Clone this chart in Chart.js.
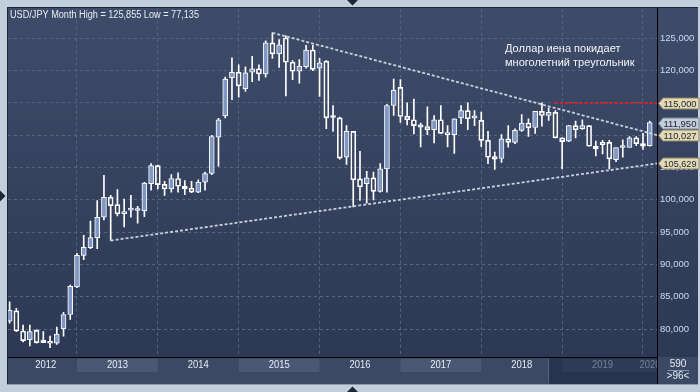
<!DOCTYPE html>
<html><head><meta charset="utf-8">
<script src="https://cdn.jsdelivr.net/npm/chart.js@4.4.0/dist/chart.umd.min.js"></script>
<style>html,body{margin:0;padding:0;background:#c3cedb;overflow:hidden}canvas{display:block}</style>
</head><body><canvas id="c" width="700" height="392"></canvas>
<script>
// ---- data (USD/JPY monthly candles) ----
const months = ['2012-03','2012-04','2012-05','2012-06','2012-07','2012-08','2012-09','2012-10','2012-11','2012-12',
'2013-01','2013-02','2013-03','2013-04','2013-05','2013-06','2013-07','2013-08','2013-09','2013-10','2013-11','2013-12',
'2014-01','2014-02','2014-03','2014-04','2014-05','2014-06','2014-07','2014-08','2014-09','2014-10','2014-11','2014-12',
'2015-01','2015-02','2015-03','2015-04','2015-05','2015-06','2015-07','2015-08','2015-09','2015-10','2015-11','2015-12',
'2016-01','2016-02','2016-03','2016-04','2016-05','2016-06','2016-07','2016-08','2016-09','2016-10','2016-11','2016-12',
'2017-01','2017-02','2017-03','2017-04','2017-05','2017-06','2017-07','2017-08','2017-09','2017-10','2017-11','2017-12',
'2018-01','2018-02','2018-03','2018-04','2018-05','2018-06','2018-07','2018-08','2018-09','2018-10','2018-11','2018-12',
'2019-01','2019-02','2019-03','2019-04','2019-05','2019-06','2019-07','2019-08','2019-09','2019-10','2019-11','2019-12',
'2020-01','2020-02'];
const opens = [81.2,82.8,79.7,78.3,79.8,78.3,78.1,77.8,80.0,82.25,
86.5,91.4,92.6,94.15,97.3,100.4,99.25,97.85,98.4,98.35,98.3,102.5,
105.3,102.4,101.7,103.3,102.1,101.8,101.2,102.75,104.1,109.7,113.0,118.9,
119.75,117.2,119.75,120.3,119.5,124.3,122.6,125.05,121.3,119.9,120.6,123.2,
120.4,121.45,112.8,112.7,106.6,110.6,103.25,102.5,103.4,101.3,104.8,114.6,
117.4,112.95,112.4,111.6,111.35,110.85,112.4,110.4,110.1,112.7,113.8,112.7,
112.3,109.2,106.7,106.4,109.45,108.9,110.75,111.9,111.2,113.7,113.05,113.55,
109.6,109.1,111.5,111.0,111.5,108.3,108.9,108.9,106.2,108.1,108.1,109.6,
108.7,108.4];
const highs = [84.2,83.2,80.6,80.6,79.9,79.6,78.9,80.3,82.6,86.8,
91.7,94.5,96.7,99.9,103.8,100.7,101.6,100.1,100.7,99.0,102.7,105.6,
105.4,102.85,103.9,104.2,103.0,102.85,103.1,104.3,110.0,112.6,119.0,122.0,
120.9,120.6,122.2,120.9,124.6,125.86,124.8,125.4,121.55,121.7,123.9,123.9,
121.9,121.55,114.6,112.8,111.5,110.6,107.5,104.4,104.3,105.6,114.8,118.7,
118.6,115.0,115.6,111.9,114.4,113.05,114.6,111.5,112.55,114.6,115.0,113.8,
113.6,110.6,107.4,110.1,111.5,111.0,113.2,112.55,113.7,115.0,114.25,113.8,
109.6,111.5,112.2,112.4,111.5,109.1,109.2,109.2,108.1,109.3,109.8,109.8,
110.3,112.2];
const lows = [80.9,79.6,78.0,77.4,77.8,77.9,77.1,77.6,78.9,81.5,
86.4,90.75,92.45,92.45,96.9,93.7,97.5,95.8,97.3,96.4,97.4,101.5,
101.7,100.7,101.2,101.2,100.8,101.1,101.1,101.5,103.9,105.2,112.7,115.5,
115.9,116.8,118.3,118.5,119.0,121.9,120.5,116.1,118.6,118.05,120.4,120.0,
116.0,111.0,110.6,106.3,105.5,98.9,99.9,99.5,100.0,101.2,101.2,113.05,
112.0,111.6,110.2,108.2,110.1,108.8,110.3,108.2,107.2,111.8,110.85,111.5,
108.25,105.6,104.7,105.8,108.15,108.7,110.6,109.8,110.3,111.4,112.3,109.6,
104.8,109.0,109.6,110.9,108.3,106.8,107.1,104.8,105.9,106.6,108.1,108.4,
107.8,108.3];
const closes = [82.9,79.7,78.2,79.6,77.9,77.9,77.8,79.2,82.25,86.6,
91.4,92.65,94.15,97.3,100.4,99.1,97.85,98.2,98.4,98.4,102.6,105.3,
102.35,101.7,103.3,102.1,101.7,101.2,102.7,104.05,109.8,112.4,118.7,119.75,
117.65,119.65,120.3,119.5,124.3,122.6,124.0,121.3,119.9,120.7,123.2,120.2,
121.2,112.7,112.75,106.45,110.6,103.1,102.0,103.4,101.3,104.8,114.6,117.0,
112.9,112.4,111.5,111.25,110.85,112.4,110.3,110.1,112.55,113.8,112.55,112.7,
109.2,106.6,106.3,109.45,108.9,110.75,111.9,111.15,113.7,113.05,113.55,109.6,
109.0,111.5,110.85,111.5,108.3,107.9,108.55,106.35,108.1,108.1,109.6,108.7,
108.3,111.95];
const years = ['2012','2013','2014','2015','2016','2017','2018','2019','2020'];
const priceTicks = [80,85,90,95,100,105,110,115,120,125];
// trend lines in (month index since Jan 2012, price)
const upperTrend = [{x:41, y:125.86}, {x:98.08, y:110.027}];
const lowerTrend = [{x:17, y:93.7}, {x:98.08, y:105.629}];
const resistance = [{x:82.9, y:115.0}, {x:98.08, y:115.0}];
const tagValues = [115.000, 111.950, 110.027, 105.629];
const tagKinds  = ['level','last','level','level'];
const titleText = 'USD/JPY Month High = 125,855 Low = 77,135';
const noteLines = ['Доллар иена покидает','многолетний треугольник'];
const xMin = 1.76, xMax = 98.08, yMin = 75.67, yMax = 129.59;
const shadeFrom = '2018-11';

// ---- helpers ----
function mIdx(s){ const p = s.split('-').map(Number); return (p[0]-2012)*12 + (p[1]-1); }
const xs = months.map(mIdx);
const bodyData = xs.map((x,i)=>({x, y:[opens[i], closes[i]]}));
const upWick = xs.map((x,i)=>({x, y:[Math.max(opens[i],closes[i]), highs[i]]}));
const loWick = xs.map((x,i)=>({x, y:[lows[i], Math.min(opens[i],closes[i])]}));
const bodyFill = xs.map((x,i)=> closes[i] >= opens[i] ? '#7f97c5' : 'rgba(0,0,0,0)');
const fmt = v => v.toFixed(3).replace('.', ',');
const FONT = '"Liberation Sans", Arial, sans-serif';

const framePlugin = {
  id: 'frame',
  beforeDraw(chart){
    const ctx = chart.ctx, xs_ = chart.scales.x;
    const px = v => Math.max(8, Math.min(657, xs_.getPixelForValue(v)));
    ctx.save();
    ctx.fillStyle = '#c3cedb'; ctx.fillRect(0,0,700,392);
    const g = ctx.createLinearGradient(0, 8, 0, 357);
    g.addColorStop(0, '#3f4c69'); g.addColorStop(1, '#2c3854');
    ctx.fillStyle = g; ctx.fillRect(8, 8, 690, 349);
    ctx.fillStyle = '#3c4964'; ctx.fillRect(8, 357, 690, 27);
    years.forEach((y,k)=>{
      if (k % 2 === 1) {
        const s = (Number(y)-2012)*12, e = s + 12;
        const a = px(s), b = px(e);
        ctx.fillStyle = '#4a5874'; ctx.fillRect(a, 359, b-a, 13);
      }
    });
    const d0 = Math.round(xs_.getPixelForValue(mIdx(shadeFrom)));
    ctx.fillStyle = '#28334d'; ctx.fillRect(d0, 358, 657-d0, 26);
    const s19 = px(mIdx('2019-01'));
    ctx.fillStyle = '#2f3a55'; ctx.fillRect(s19, 359, 657-s19, 13);
    ctx.fillStyle = '#56617a'; ctx.fillRect(d0-1, 359, 1, 24);
    ctx.restore();
  },
  afterDraw(chart){
    const ctx = chart.ctx, xsc = chart.scales.x, ysc = chart.scales.y;
    ctx.save();
    ctx.fillStyle = '#1d2433'; ctx.fillRect(7,7,691,1); ctx.fillRect(7,7,1,377);
    ctx.fillStyle = '#000'; ctx.fillRect(657,8,1,376); ctx.fillRect(8,357,649,1);
    ctx.fillStyle = '#8c9ab0'; ctx.fillRect(7,384,691,1);
    ctx.save();
    ctx.beginPath(); ctx.rect(8,358,649,26); ctx.clip();
    ctx.textAlign = 'center'; ctx.textBaseline = 'middle';
    ctx.font = '10.5px ' + FONT;
    const dIdx = mIdx(shadeFrom);
    years.forEach(y=>{
      const s = (Number(y)-2012)*12, e = s+12;
      const a = Math.max(s, xMin + 1), b = Math.min(e, xMax);
      const c = xsc.getPixelForValue((a+b)/2);
      ctx.fillStyle = s > dIdx ? '#76839a' : '#e4ecf8';
      ctx.fillText(y, c, 365.5, 21);
    });
    ctx.restore();
    tagValues.forEach((v,i)=>{
      const y = Math.round(ysc.getPixelForValue(v)) + 0.5;
      const h = 11;
      ctx.beginPath();
      ctx.moveTo(658.5, y); ctx.lineTo(663, y-h/2); ctx.lineTo(699, y-h/2);
      ctx.lineTo(699, y+h/2); ctx.lineTo(663, y+h/2); ctx.closePath();
      ctx.fillStyle = tagKinds[i] === 'last' ? '#c4cdda' : '#e3d9b3';
      ctx.fill();
      ctx.strokeStyle = tagKinds[i] === 'last' ? '#7d889c' : '#8a8468';
      ctx.lineWidth = 1; ctx.stroke();
      ctx.fillStyle = '#1a2238'; ctx.font = '9.5px ' + FONT;
      ctx.textAlign = 'left'; ctx.textBaseline = 'middle';
      ctx.fillText(fmt(v), 663.5, y+0.5, 33);
    });
    ctx.fillStyle = '#e6ecf5'; ctx.font = '10px ' + FONT;
    ctx.textAlign = 'left'; ctx.textBaseline = 'middle';
    ctx.fillText(titleText, 10, 15, 189);
    ctx.textBaseline = 'alphabetic'; ctx.font = '11px ' + FONT; ctx.fillStyle = '#f2f5fa';
    ctx.fillText(noteLines[0], 505, 52, 116);
    ctx.fillText(noteLines[1], 505, 65.5, 131);
    ctx.fillStyle = '#e6ecf5'; ctx.font = '10px ' + FONT; ctx.textAlign = 'center'; ctx.textBaseline = 'middle';
    ctx.fillText('590', 678, 364.5);
    ctx.fillStyle = '#8794aa'; ctx.fillRect(668, 370, 21, 1);
    ctx.fillStyle = '#e6ecf5'; ctx.fillText('>96<', 678, 376.5);
    ctx.fillStyle = '#1c2535';
    ctx.beginPath(); ctx.moveTo(347,0); ctx.lineTo(358,0); ctx.lineTo(352.5,5.5); ctx.closePath(); ctx.fill();
    ctx.beginPath(); ctx.moveTo(347,392); ctx.lineTo(358,392); ctx.lineTo(352.5,386.5); ctx.closePath(); ctx.fill();
    ctx.beginPath(); ctx.moveTo(0,190.5); ctx.lineTo(0,201.5); ctx.lineTo(5.5,196); ctx.closePath(); ctx.fill();
    ctx.restore();
  }
};

const gridColor = '#56647f';
new Chart(document.getElementById('c'), {
  type: 'bar',
  data: { datasets: [
    { type:'line', data: upperTrend, borderColor:'rgba(210,215,225,0.95)', borderWidth:1.8, borderDash:[3,2], pointRadius:0, order:-2, clip:0 },
    { type:'line', data: lowerTrend, borderColor:'rgba(210,215,225,0.95)', borderWidth:1.8, borderDash:[3,2], pointRadius:0, order:-2, clip:0 },
    { type:'line', data: resistance, borderColor:'#d8202a', borderWidth:2, borderDash:[3,2], pointRadius:0, order:-1, clip:0 },
    { data: bodyData, backgroundColor: bodyFill, borderColor:'#ffffff', borderWidth:1, borderSkipped:false,
      barPercentage:1, categoryPercentage:1, maxBarThickness:5, minBarLength:2, grouped:false, order:0, clip:0 },
    { data: upWick, backgroundColor:'#ffffff', borderWidth:0, barPercentage:1, categoryPercentage:1, maxBarThickness:1, grouped:false, order:1, clip:0 },
    { data: loWick, backgroundColor:'#ffffff', borderWidth:0, barPercentage:1, categoryPercentage:1, maxBarThickness:1, grouped:false, order:1, clip:0 }
  ]},
  options: {
    responsive:false, animation:false, devicePixelRatio:1, events:[],
    layout:{ padding:{ left:8, top:8, right:0, bottom:35 } },
    plugins:{ legend:{display:false}, tooltip:{enabled:false} },
    scales:{
      x:{ type:'linear', min:xMin, max:xMax, offset:false,
          afterBuildTicks: s => { s.ticks = years.map(y => ({value:(Number(y)-2012)*12})).filter(t=>t.value>xMin && t.value<xMax); },
          ticks:{ display:false, autoSkip:false },
          grid:{ color:gridColor, lineWidth:1, drawTicks:false, tickLength:0, offset:false, borderDash:[3,3] },
          border:{ display:false, dash:[3,3] },
          afterFit: s => { s.height = 0; } },
      y:{ type:'linear', position:'right', min:yMin, max:yMax,
          afterBuildTicks: s => { s.ticks = priceTicks.map(v => ({value:v})); },
          ticks:{ color:'#c8dcf4', font:{ family:'"Liberation Sans", Arial, sans-serif', size:9.5 }, padding:3, autoSkip:false, callback: v => fmt(v) },
          grid:{ color:gridColor, lineWidth:1, drawTicks:false, tickLength:0, borderDash:[3,3] },
          border:{ display:false, dash:[3,3] },
          afterFit: s => { s.width = 43; } }
    }
  },
  plugins:[framePlugin]
});
</script>
</body></html>
